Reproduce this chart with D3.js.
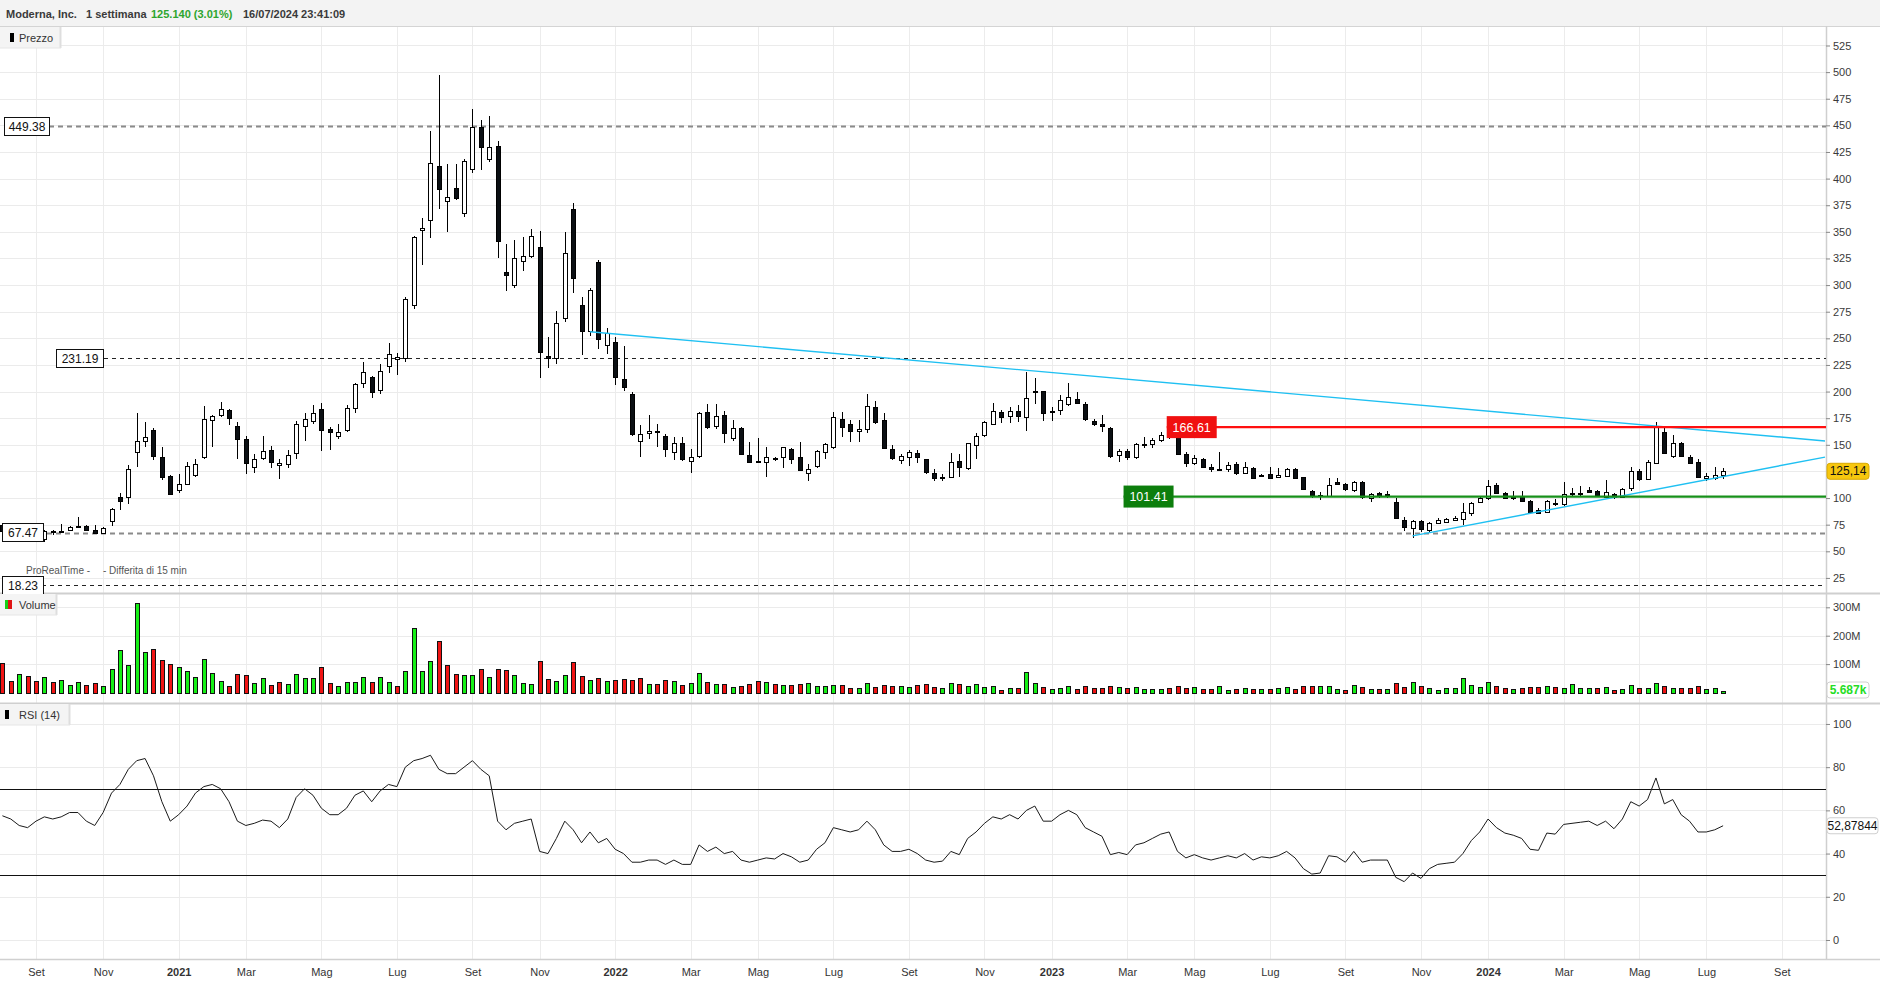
<!DOCTYPE html>
<html><head><meta charset="utf-8">
<script src="https://cdn.jsdelivr.net/npm/d3@7"></script>
<style>
html,body{margin:0;padding:0;background:#fff;overflow:hidden;}
svg{display:block;font-family:"Liberation Sans",Arial,sans-serif;}
</style></head><body>
<svg id="chart" width="1880" height="982"></svg>
<script>
// ---------------- DATA ----------------
const title = "Moderna, Inc.";
const period = "1 settimana";
const lastQuote = "125.140 (3.01%)";
const stamp = "16/07/2024 23:41:09";
const firstWeek = "2020-08-10";   // Monday of first weekly bar
const lastWeek  = "2024-07-15";   // Monday of last weekly bar

const open = [
 75,70,68.5,72,66,62,69.5,69,70,73.8,
 74,70,67.5,78,101.3,101,143.5,154,164,138.5,
 120.5,107.5,113,122,138.3,173,178,182.7,168,155,
 129.5,137.4,145,131,132,142,168,172.3,184,164.5,
 158.5,163.5,185,208,213.4,201.5,224,230.6,231.2,281,
 352,361,411.8,379,390.8,367.7,408.7,448,418.5,430.9,
 312.7,299.8,322.3,327.6,335.5,233.4,231.2,268.8,371.1,281,
 257.1,321.7,243.7,247,211.5,197.7,154,161,163,158.3,
 143,151.4,135.1,139.8,180.5,167.3,177.7,156.1,165.5,140.4,
 134.4,133.6,137.5,138.3,145.8,138.3,123.2,130.4,143,148.2,
 173.9,169.2,162.9,164.8,185.2,173.3,146.1,135.4,138.3,142,
 136.4,123.2,119.5,120,135.1,127.9,149.8,159.2,169.5,180.5,
 177.3,181.7,175.8,200.5,200.5,182,182.7,188.3,192.7,188.3,
 172.3,169.3,165.5,140.1,144.2,138.8,151,150.6,154.4,159.5,
 157,141.1,132.6,136.7,129.4,127,127.3,131.7,123.2,128.5,
 121.2,122.6,119.5,121,127.3,119.5,107,102.3,102.2,114.8,
 113,107.6,115.4,99.8,104.5,104,96.6,79.4,71.6,78.5,
 70,76.9,77.8,79.4,80,85.7,96,99.8,112.3,104.5,
 101,101.9,97.5,88.8,87.2,95.6,94.4,104.2,103.5,107.6,
 106.6,101.3,103.8,101.3,109.2,125.7,117.6,133.2,161.7,139.5,
 152,138.3,134.1,118.5,118.5,121.5];
const high = [
 77,74,73,75,68,70,70,75.5,74,82.5,
 75,74.5,73,90.5,104.5,131,179.6,171.7,165.5,148,
 122,123,134,137,186.4,178,190,184,171,158,
 141,158,149,137,145,172,180,187.4,189,167,
 169.5,187.4,208,228,215,226,246,236,289,346,
 363,444.7,497.5,414,414,418,465,455,459,435.6,
 338.4,342.5,344.7,353,350.7,251.5,275.5,350,376.8,288.5,
 297,324,259.4,251.5,242.8,200,168.6,178,170,160,
 157,157,145.8,181.1,188.3,188,181.7,173.3,166.4,152.4,
 156.1,148.2,139,148.2,147,152.9,132,145,152,181.1,
 181.1,173.3,173.3,197.4,191.1,180.1,149.8,141.1,145.1,145.1,
 137,127,122.6,142,141.4,152,160.8,172,189,182.7,
 185.8,187.4,218.7,212.5,201,185.8,197,207.7,199.3,190,
 173.9,178,167,146,146,152,157,156,162.3,164,
 163,143,140,138,131.7,142.9,134,134,133.6,129.4,
 122.5,129,128,128,128,120,108,106,118.5,118.5,
 114,116,116,105,106,107,100,82.5,79,79.5,
 77.5,81.6,81,83,95,96,101,117,114,106,
 106.6,106.6,98,91,98,99,115.4,109.2,111.3,110.7,
 108,117,105,109,129,127,136,171.7,165.5,159.2,
 153,140.4,136.7,123.8,129.4,128.5];
const low = [
 67,67.5,67.5,65,62,59,65,68,69.5,72.5,
 69.5,66.5,66,74,88.8,94.5,129.4,148,135.7,117,
 102.9,104.5,112,120,137,148,176,169,137,122.6,
 124,136,128,118.3,128,137,154,170,144.5,145.5,
 155.4,162,180,203,193.7,198,217,215.6,228,278,
 319,344.5,371.3,350,380,364,405,408,416,325.1,
 294.7,297,313.4,325,212.5,222.4,226.3,265.3,292.3,234.3,
 252,239.7,235,206.2,200.5,158,138.8,155,148,138.8,
 135.7,135,123.3,138,164.6,165,152,153.6,140,133,
 132.6,120,134.5,127.9,132,125.7,116.3,128.5,136.4,146,
 157,152.9,152.9,161.4,169.5,146,136,132,130.4,132.6,
 123,116.3,116.3,119,120,126,136.4,157,169,170.8,
 170.2,171.7,163.2,188.3,172.6,172.6,178,186,188,172,
 167.6,162.3,138,134,136,137,146.7,146.7,153,155,
 140,129.4,131,127.9,124.7,126,124.7,122,122.6,118,
 120.5,118.5,118.5,120,118,108,99.8,98.2,101,112,
 107,106,99,96,100,100,80,69.3,62.5,68.5,
 68,76,77,78.5,74.7,83,95,98,104,99,
 98.2,97,86,85,86,93,93,102,102,105,
 101,100,99.5,100,107,116,116.5,132,141,138,
 138.5,132,118.5,116.3,117,117.6];
const close = [
 69,68.5,72,66,63.5,69.5,68.5,68.8,72.5,73.4,
 70,67.5,72,89.5,97.5,127,153.6,157,139.5,119.8,
 104,113,130,132,174,177,184,175,155,132.6,
 137,144,133.5,133,140,170,174,179.6,163.5,161.8,
 162,185,207,218.6,199.3,219.6,235,232.6,286.6,345,
 354,414.8,390,383,382,416.3,448.7,429.7,429.9,341.7,
 309.2,325,327,346.1,237.4,231.2,264.1,329.8,306.9,257.1,
 295.3,249.6,254.7,214,204.6,160.1,159.8,163,162.3,145.8,
 151.4,136.4,138.3,179.6,166.4,177.1,160.8,165.5,141.1,134.1,
 133.9,138.3,136.8,147.7,137,126.3,127.6,144.5,150.5,176.4,
 167,163.2,164.8,186.7,171.1,146.7,137.3,139.2,142.9,138.3,
 124.2,118.5,120,134.1,128.9,151.4,158.5,171.1,182.1,176.4,
 182.1,177.3,193.7,199.8,179.6,181.2,192.1,194.6,189.5,173.9,
 169.5,167.7,139.5,144.2,138.3,150.5,150.6,154.4,159.2,158.5,
 141.1,133.2,137.3,129.4,127.3,127.6,131,123.2,128.9,118.5,
 121.8,119.1,121.6,127.3,118.5,108.2,102.6,102.9,112.3,113,
 108.2,114.8,100.7,103.5,102,103.3,81,72.5,78.7,70.6,
 76.9,79.4,80.3,81.6,86.6,95.1,99.8,111.3,105,99.8,
 100.7,97.5,87.2,86.2,97.5,94.4,103.8,104.5,105,106,
 102.9,105.4,100.7,108.2,125.7,117.6,134.1,166.4,142.6,151.4,
 139.5,133.2,119.5,120.7,121.48,125.14];
// weekly volume, millions of shares
const volumeM = [
 103,40,64,57,40,54,36,43,26,36,
 26,33,22,82,149,96,315,142,153,114,
 100,89,75,54,117,68,40,22,64,61,
 33,50,26,36,29,64,50,50,89,33,
 22,36,36,54,36,54,36,22,75,226,
 75,110,181,96,64,61,61,82,54,82,
 79,61,33,29,110,47,40,61,107,57,
 43,50,40,43,47,43,50,29,29,43,
 40,26,33,68,36,29,29,19,23,29,
 41,36,29,26,26,29,33,22,22,26,
 26,15,15,33,19,26,22,22,19,26,
 29,19,15,33,29,22,29,19,22,8,
 15,15,72,33,19,12,15,22,12,22,
 15,15,22,19,15,19,12,12,12,15,
 22,15,19,12,12,22,8,12,15,12,
 12,12,15,19,12,22,22,22,22,12,
 8,26,19,12,12,12,33,19,36,22,
 15,8,15,15,50,26,19,36,22,15,
 12,15,19,19,22,19,15,29,15,15,
 15,19,8,12,26,15,15,33,22,15,
 15,15,22,12,15,5];
const rsi = [
 57.5,56,53,52,55,57,56,57,59,59,
 55,53,59,68,72,79,83,84,76,64,
 55,58,62,68,71,72,70,64,55,53,
 54,55.5,55,52,56,66,70,67,61,58,
 58,61,67,69,64,69,72,71,80,83,
 84,85.5,79,77,77,80,83,79,76,55,
 51,54,55,56,41,40,47,55,51,45,
 50,45,47,42,40,36,36,37,37,35,
 37,35,35,44,41,43,40,41,37,36,
 37,38,37.5,40,38.5,36,37,42,45,52,
 51,50,51,55,51,44,41,41,42,40,
 37,36,36.5,41,39.5,47,50,54,57,56,
 58,56,60,62,55,55,58,60,58,52,
 50,48,39.5,40.5,39.5,44,45,47,49,50,
 41,38,39.5,38,37,38,39,38,40,37,
 38.5,38,39,41,38,33,30.5,31,39,38.5,
 36,41,36,37,37,37,29,27,31,28.5,
 33,35,35.5,36,40,46,50,56,52,49.5,
 48.5,47,42,41.5,49.5,49,53.5,54,54.5,55,
 53,55,51.5,56,64,62,65,75,63,65,
 58,55,50,50,51,52.88];

const priceTicks = [25,50,75,100,125,150,175,200,225,250,275,300,325,350,375,400,425,450,475,500,525];
const volumeTicks = [100,200,300];
const rsiTicks = [0,20,40,60,80,100];
const rsiBands = [70,30];
const monthTicks = ["2020-09","2020-11","2021-01","2021-03","2021-05","2021-07","2021-09","2021-11",
  "2022-01","2022-03","2022-05","2022-07","2022-09","2022-11","2023-01","2023-03","2023-05","2023-07",
  "2023-09","2023-11","2024-01","2024-03","2024-05","2024-07","2024-09"];
const monthNames = ["Gen","Feb","Mar","Apr","Mag","Giu","Lug","Ago","Set","Ott","Nov","Dic"];

const dashedLevels = [449.38, 231.19, 67.47, 18.23];
const resistance = {value:166.61, from:"2023-04-08"};
const support = {value:101.41, from:"2023-03-03"};
const trendDown = [{date:"2021-12-13", price:256.2},{date:"2024-10-08", price:153.6}];
const trendUp   = [{date:"2023-10-30", price:64.5},{date:"2024-10-08", price:138.5}];
const lastVolumeLabel = "5.687k";
const lastRsiLabel = "52,87844";

// ---------------- LAYOUT ----------------
const AX = 1826;                       // right axis line
const P = {top:26, bottom:593};
const V = {top:593, bottom:703};
const R = {top:703, bottom:959};
const parse = d3.timeParse("%Y-%m-%d");
const weeks = d3.timeMonday.range(parse(firstWeek), d3.timeDay.offset(parse(lastWeek),1));
const x = d3.scaleTime().domain([parse(firstWeek), parse(lastWeek)]).range([2.4, 1723.1]);
const yP = d3.scaleLinear().domain([10.85, 543.3]).range([P.bottom, P.top]);
const yV = d3.scaleLinear().domain([0, 350]).range([692.5, V.top + 0.1]);
const yR = d3.scaleLinear().domain([-8.8, 109.7]).range([R.bottom, R.top]);

const bars = weeks.map((d,i)=>({date:d,o:open[i],h:high[i],l:low[i],c:close[i],v:volumeM[i],r:rsi[i],
  prev: i>0?close[i-1]:open[i]}));
const last = bars[bars.length-1];

const svg = d3.select("#chart");
svg.append("rect").attr("width",1880).attr("height",982).attr("fill","#fff");

// header
svg.append("rect").attr("x",0).attr("y",0).attr("width",1880).attr("height",26).attr("fill","#f3f3f3");
svg.append("line").attr("x1",0).attr("x2",1880).attr("y1",26.5).attr("y2",26.5).attr("stroke","#d4d4d4");
const ht = svg.append("text").attr("y",18).attr("font-size",11).attr("font-weight","bold").attr("fill","#3a3a3a");
ht.append("tspan").attr("x",6).text(title);
ht.append("tspan").attr("x",86).text(period);
ht.append("tspan").attr("x",151).attr("fill","#2ea52e").text(lastQuote);
ht.append("tspan").attr("x",243).text(stamp);

// month positions = first weekly bar of month
const monthDates = monthTicks.map(s=>d3.timeMonday.ceil(parse(s+"-01")));
const gridG = svg.append("g").attr("shape-rendering","crispEdges");
monthDates.forEach(d=>{
  const xx = Math.round(x(d))+0.5;
  gridG.append("line").attr("x1",xx).attr("x2",xx).attr("y1",P.top+1).attr("y2",R.bottom).attr("stroke","#ececec");
});
priceTicks.forEach(t=>gridG.append("line").attr("x1",0).attr("x2",AX).attr("y1",Math.round(yP(t))+0.5).attr("y2",Math.round(yP(t))+0.5).attr("stroke","#ebebeb"));
volumeTicks.forEach(t=>gridG.append("line").attr("x1",0).attr("x2",AX).attr("y1",Math.round(yV(t))+0.5).attr("y2",Math.round(yV(t))+0.5).attr("stroke","#ebebeb"));
rsiTicks.forEach(t=>gridG.append("line").attr("x1",0).attr("x2",AX).attr("y1",Math.round(yR(t))+0.5).attr("y2",Math.round(yR(t))+0.5).attr("stroke","#ebebeb"));

// pane separators & axis line
[V.top, R.top].forEach(y=>svg.append("line").attr("x1",0).attr("x2",1880).attr("y1",y+0.5).attr("y2",y+0.5).attr("stroke","#cfcfcf").attr("stroke-width",2));
svg.append("line").attr("x1",0).attr("x2",1880).attr("y1",R.bottom+0.5).attr("y2",R.bottom+0.5).attr("stroke","#d0d0d0").attr("stroke-width",1.5);
svg.append("line").attr("x1",AX+0.5).attr("x2",AX+0.5).attr("y1",P.top).attr("y2",R.bottom).attr("stroke","#cfcfcf").attr("stroke-width",1.5);

// dashed levels
const dashStyle = [{c:"#8a8a8a",w:2,d:"5,4"},{c:"#222",w:1.2,d:"4,4"},{c:"#8a8a8a",w:2,d:"5,4"},{c:"#222",w:1.2,d:"4,4"}];
const dashLabelX = [4,56,2,2];
const dashLabelW = [45,47,41,41];
dashedLevels.forEach((v,i)=>{
  const yy = Math.round(yP(v))+0.5;
  svg.append("line").attr("x1",dashLabelX[i]).attr("x2",AX).attr("y1",yy).attr("y2",yy)
    .attr("stroke",dashStyle[i].c).attr("stroke-width",dashStyle[i].w).attr("stroke-dasharray",dashStyle[i].d);
});

// candles
const cg = svg.append("g").attr("shape-rendering","crispEdges");
bars.forEach(b=>{
  const cx = Math.round(x(b.date));
  if (cx < -3) return;
  const up = b.c >= b.o;
  cg.append("line").attr("x1",cx+0.5).attr("x2",cx+0.5).attr("y1",Math.round(yP(b.h))).attr("y2",Math.round(yP(b.l)))
    .attr("stroke","#000").attr("stroke-width",1);
  const yt = Math.round(yP(Math.max(b.o,b.c))), yb = Math.round(yP(Math.min(b.o,b.c)));
  cg.append("rect").attr("x",cx-1.5).attr("y",yt+0.5).attr("width",4).attr("height",Math.max(1,yb-yt))
    .attr("fill",up?"#ffffff":"#0b0f13").attr("stroke","#000").attr("stroke-width",1);
});

// volume bars
const vg = svg.append("g").attr("shape-rendering","crispEdges");
bars.forEach(b=>{
  const cx = Math.round(x(b.date));
  const yt = Math.round(yV(b.v)), yb = Math.round(yV(0));
  vg.append("rect").attr("x",cx-1.5).attr("y",yt+0.5).attr("width",4).attr("height",Math.max(1,yb-yt))
    .attr("fill", b.c >= b.prev ? "#16f016" : "#f01414").attr("stroke","#111").attr("stroke-width",1);
});

// RSI
rsiBands.forEach(v=>svg.append("line").attr("x1",0).attr("x2",AX).attr("y1",Math.round(yR(v))+0.5).attr("y2",Math.round(yR(v))+0.5).attr("stroke","#111").attr("stroke-width",1.2));
svg.append("path").datum(bars).attr("fill","none").attr("stroke","#1a1a1a").attr("stroke-width",1)
  .attr("d", d3.line().x(b=>x(b.date)).y(b=>yR(b.r)));

// trendlines
[trendDown, trendUp].forEach(t=>{
  svg.append("line").attr("x1",x(parse(t[0].date))).attr("y1",yP(t[0].price))
    .attr("x2",x(parse(t[1].date))).attr("y2",yP(t[1].price))
    .attr("stroke","#1fc0f2").attr("stroke-width",1.4);
});

// resistance / support
function level(L, color, labelFill){
  const yy = yP(L.value), xs = x(parse(L.from));
  svg.append("line").attr("x1",xs).attr("x2",AX).attr("y1",yy).attr("y2",yy).attr("stroke",color).attr("stroke-width",2.2);
  svg.append("rect").attr("x",xs).attr("y",yy-11).attr("width",50).attr("height",22).attr("fill",labelFill);
  svg.append("text").attr("x",xs+25).attr("y",yy+4.5).attr("text-anchor","middle").attr("font-size",12.5)
    .attr("fill","#fff").text(L.value.toFixed(2));
}
level(resistance, "#ff1010", "#f01010");
level(support, "#17901a", "#0d7e0d");

// dashed level labels
dashedLevels.forEach((v,i)=>{
  const yy = yP(v);
  svg.append("rect").attr("x",dashLabelX[i]+0.5).attr("y",Math.round(yy-9.5)+0.5).attr("width",dashLabelW[i]).attr("height",18)
    .attr("fill","#fff").attr("stroke","#111").attr("stroke-width",1);
  svg.append("text").attr("x",dashLabelX[i]+dashLabelW[i]/2+0.5).attr("y",yy+4.5).attr("text-anchor","middle")
    .attr("font-size",12).attr("fill","#111").text(v.toFixed(2));
});

// watermark (kept just above the 18.23 tag)
svg.append("text").attr("x",26).attr("y",574).attr("font-size",10).attr("fill","#555").text("ProRealTime -");
svg.append("text").attr("x",103).attr("y",574).attr("font-size",10).attr("fill","#555").text("- Differita di 15 min");

// legends
function legend(y, w, label, icon){
  svg.append("rect").attr("x",0).attr("y",y).attr("width",w).attr("height",21).attr("fill","#f4f4f4");
  svg.append("line").attr("x1",w-0.5).attr("x2",w-0.5).attr("y1",y).attr("y2",y+21).attr("stroke","#dedede").attr("stroke-width",2);
  svg.append("line").attr("x1",0).attr("x2",w).attr("y1",y+21).attr("y2",y+21).attr("stroke","#e6e6e6");
  icon(y);
  svg.append("text").attr("x",19).attr("y",y+15).attr("font-size",11).attr("fill","#333").text(label);
}
legend(27, 61, "Prezzo", y=>svg.append("rect").attr("x",10).attr("y",y+6).attr("width",4).attr("height",9).attr("fill","#000"));
legend(594, 57, "Volume", y=>{
  svg.append("rect").attr("x",5).attr("y",y+6).attr("width",3).attr("height",9).attr("fill","#16d016");
  svg.append("rect").attr("x",8).attr("y",y+6).attr("width",4).attr("height",9).attr("fill","#e01414");
});
legend(704, 70, "RSI (14)", y=>svg.append("rect").attr("x",5).attr("y",y+6).attr("width",4).attr("height",9).attr("fill","#000"));

// right axes (tick labels hidden behind the current-value badges are skipped, as in the source)
function rightAxis(scale, ticks, fmt, badgeY){
  const shown = ticks.filter(t=> badgeY==null || Math.abs(scale(t)-badgeY) > 11);
  const g = svg.append("g").attr("transform",`translate(${AX},0)`)
    .call(d3.axisRight(scale).tickValues(shown).tickSize(4).tickPadding(3).tickFormat(fmt));
  g.select(".domain").remove();
  g.selectAll(".tick line").attr("stroke","#888");
  g.selectAll("text").attr("font-size",11).attr("fill","#3a3a3a").attr("font-family","Liberation Sans, Arial, sans-serif");
}
rightAxis(yP, priceTicks, d=>d, yP(last.c));
rightAxis(yV, volumeTicks, d=>d+"M", null);
rightAxis(yR, rsiTicks, d=>d, yR(last.r));

// bottom axis
const bx = svg.append("g").attr("transform",`translate(0,${R.bottom})`)
  .call(d3.axisBottom(x).tickValues(monthDates).tickSize(0).tickPadding(9)
    .tickFormat((d,i)=>{ const s = monthTicks[i]; const m = +s.slice(5,7)-1;
      return m===0 ? s.slice(0,4) : monthNames[m]; }));
bx.select(".domain").remove();
bx.selectAll("text").attr("font-size",11).attr("fill","#333").attr("font-family","Liberation Sans, Arial, sans-serif")
  .attr("font-weight",(d,i)=>monthTicks[i].endsWith("-01")?"bold":"normal");

// value boxes on the axis
function valueBox(y, w, txt, fill, stroke, color, bold){
  svg.append("rect").attr("x",AX+1).attr("y",y-8).attr("width",w).attr("height",16).attr("rx",3)
    .attr("fill",fill).attr("stroke",stroke);
  svg.append("text").attr("x",AX+1+w/2).attr("y",y+4).attr("text-anchor","middle").attr("font-size",12)
    .attr("font-weight",bold?"bold":"normal").attr("fill",color).text(txt);
}
valueBox(yP(last.c), 42, last.c.toFixed(2).replace(".",","), "#f7c70e", "#d9a900", "#111", false);
valueBox(Math.min(yV(last.v), 690), 42, lastVolumeLabel, "#fff", "#d0d0d0", "#25dd25", true);
valueBox(yR(last.r), 51, lastRsiLabel, "#fff", "#cfcfcf", "#111", false);
</script>
</body></html>
